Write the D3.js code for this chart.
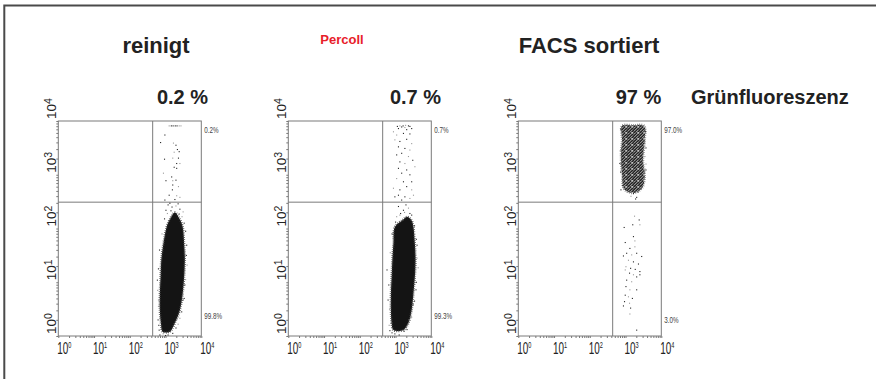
<!DOCTYPE html>
<html>
<head>
<meta charset="utf-8">
<script src="https://cdn.jsdelivr.net/npm/d3@7"></script>
<style>
  body { margin: 0; background: #fff; }
  text { font-family: Arial, "Liberation Sans", sans-serif; }
</style>
</head>
<body>
<div id="chart"></div>
<script>
// panel texts
const panelTitles = ["reinigt", "Percoll", "FACS sortiert"];
const upperPercents = ["0.2 %", "0.7 %", "97 %"];
const quadUpper = ["0.2%", "0.7%", "97.0%"];
const quadLower = ["99.8%", "99.3%", "3.0%"];
const channelLabel = "Grünfluoreszenz";

// axes run over 4 decades, values below are log10 of the fluorescence
const decades = [0, 1, 2, 3, 4];
const gateX = 2.64;
const gateY = 2.49;

// outline of the dense (solid) part of each population, [log x, log y]
const core1 = [[2.92, 0.08], [2.87, 0.24], [2.84, 0.48], [2.84, 0.79], [2.86, 1.10], [2.88, 1.41], [2.94, 1.72],
  [3.03, 2.03], [3.12, 2.17], [3.26, 2.30], [3.40, 2.17], [3.48, 2.03], [3.52, 1.72], [3.54, 1.41],
  [3.52, 1.10], [3.48, 0.79], [3.40, 0.48], [3.26, 0.24], [3.12, 0.08]];
const core2 = [[2.94, 0.11], [2.89, 0.24], [2.87, 0.48], [2.87, 0.79], [2.89, 1.10], [2.91, 1.41], [2.94, 1.72],
  [2.98, 2.03], [3.20, 2.16], [3.33, 2.22], [3.45, 2.15], [3.50, 2.03], [3.54, 1.72], [3.56, 1.41],
  [3.54, 1.10], [3.50, 0.79], [3.45, 0.48], [3.36, 0.24], [3.22, 0.11]];
const core3 = [[2.90, 3.91], [3.21, 3.92], [3.52, 3.91], [3.54, 3.65], [3.49, 3.27], [3.54, 3.00], [3.46, 2.75],
  [3.21, 2.66], [2.96, 2.73], [2.90, 3.00], [2.87, 3.37], [2.90, 3.65]];

// single events outside the dense part, [log x, log y]
const events1 = [
  [3.10, 3.91], [3.21, 3.91], [3.32, 3.91], [3.43, 3.91], [3.16, 3.91], [3.27, 3.91], [3.38, 3.91],
  [2.98, 3.74], [2.86, 3.60], [3.22, 3.59], [3.29, 3.55], [3.33, 3.47], [3.24, 3.42], [3.38, 3.43],
  [2.97, 3.29], [3.20, 3.31], [3.36, 3.31], [3.31, 3.21], [3.40, 3.21], [3.24, 3.14], [3.31, 3.12],
  [2.94, 3.03], [3.17, 2.96], [3.01, 2.89], [3.20, 2.89], [3.29, 2.90], [3.20, 2.81], [3.36, 2.78],
  [3.19, 2.72], [3.10, 2.62], [3.31, 2.61], [2.98, 2.53], [3.26, 2.54], [3.40, 2.58],
  [3.07, 2.44], [3.18, 2.40], [3.29, 2.42], [3.40, 2.36], [3.01, 2.34], [3.49, 2.31], [3.12, 2.47], [3.35, 2.46],
  [3.05, 2.28], [3.15, 2.33], [3.38, 2.27], [3.46, 2.22], [2.97, 2.18], [3.52, 2.10],
  [2.80, 0.67], [2.79, 0.30], [2.82, 0.11], [2.93, 0.04], [2.77, 1.04], [3.59, 1.69], [3.60, 1.32],
  [3.54, 0.95], [3.49, 0.67], [3.40, 0.33], [3.29, 0.15], [3.07, 0.02],
  [2.80, 0.55], [2.81, 0.20], [2.84, 0.02], [2.78, 0.85], [2.80, 1.25], [2.83, 1.60], [2.90, 1.90],
  [3.56, 1.95], [3.58, 1.50], [3.56, 1.05], [3.52, 0.70], [3.45, 0.45], [3.35, 0.22], [3.20, 0.05], [3.00, 0.01]
];
const events2 = [
  [2.94, 3.80], [3.08, 3.86], [3.17, 3.89], [3.26, 3.88], [3.36, 3.91], [3.45, 3.86], [3.12, 3.91], [3.31, 3.84],
  [3.21, 3.91], [3.28, 3.92], [3.40, 3.90], [3.05, 3.90],
  [3.03, 3.74], [3.22, 3.77], [3.40, 3.76], [2.98, 3.65], [3.12, 3.62], [3.31, 3.66], [3.45, 3.58],
  [3.08, 3.52], [3.26, 3.49], [3.40, 3.46], [3.17, 3.40], [3.03, 3.37], [3.36, 3.34], [3.48, 3.27],
  [3.12, 3.24], [3.26, 3.21], [3.08, 3.12], [3.31, 3.09], [3.54, 3.15], [3.17, 3.03], [3.40, 3.00],
  [3.03, 2.93], [3.22, 2.87], [3.45, 2.87], [2.94, 2.75], [3.12, 2.72], [3.31, 2.78], [3.45, 2.72],
  [3.08, 2.62], [3.26, 2.59], [3.40, 2.56], [3.17, 2.53], [2.98, 2.59], [3.50, 2.62],
  [3.08, 2.41], [3.22, 2.34], [3.36, 2.38], [3.14, 2.28], [3.45, 2.25], [3.03, 2.22], [3.29, 2.44],
  [3.00, 2.12], [3.12, 2.25], [3.40, 2.28], [3.53, 2.05], [3.25, 2.30],
  [2.79, 0.67], [2.76, 1.23], [2.82, 0.20], [2.98, 0.04], [3.60, 1.69], [3.63, 1.27], [3.57, 0.86],
  [3.49, 0.58], [3.38, 0.30], [3.24, 0.09], [2.90, 0.06],
  [2.83, 0.50], [2.84, 0.10], [2.81, 0.95], [2.85, 1.55], [2.90, 1.90], [3.58, 1.80], [3.60, 1.45],
  [3.58, 1.00], [3.53, 0.65], [3.45, 0.35], [3.32, 0.12], [3.10, 0.02]
];
const events3 = [
  [3.25, 2.23], [3.38, 2.16], [3.20, 2.07], [3.40, 2.07], [2.96, 2.02], [3.22, 1.85], [3.26, 1.77],
  [2.99, 1.74], [3.12, 1.63], [3.26, 1.66], [3.03, 1.54], [2.94, 1.49], [3.17, 1.51], [3.31, 1.54],
  [3.45, 1.48], [3.08, 1.41], [3.22, 1.38], [3.36, 1.34], [3.01, 1.29], [3.14, 1.26], [3.27, 1.24],
  [2.99, 1.23], [3.40, 1.20], [3.11, 1.17], [3.22, 1.14], [3.31, 1.10], [3.03, 1.04], [3.17, 1.01],
  [3.40, 1.14], [3.01, 0.92], [3.12, 0.86], [3.31, 0.86], [2.99, 0.76], [3.08, 0.73], [3.19, 0.70],
  [2.97, 0.64], [3.11, 0.61], [2.94, 0.56], [3.14, 0.52], [3.12, 0.41], [3.31, 0.11],
  [2.87, 2.72], [2.94, 2.78], [3.31, 2.58], [3.22, 2.65], [3.54, 3.34], [3.57, 3.09], [3.50, 3.58],
  [2.88, 3.58], [2.84, 3.21],
  [2.86, 3.85], [2.85, 3.45], [2.86, 3.05], [2.92, 2.80], [3.05, 2.68], [3.35, 2.68], [3.50, 2.85],
  [3.57, 3.20], [3.57, 3.50], [3.56, 3.80], [3.15, 2.60], [3.28, 2.55]
];
const cores = [core1, core2, core3];
const events = [events1, events2, events3];

const width = 876, height = 379;
const plotW = 143, plotH = 215, plotTop = 121;
const panelLeft = i => 58.3 + i * 230;
const minorTicks = d3.range(0, 4).flatMap(k => d3.range(1, 10).map(m => m * Math.pow(10, k))).concat([1e4]);
const pow = e => Math.pow(10, e);

const svg = d3.select('#chart').append('svg')
  .attr('width', width)
  .attr('height', height);

// speckled fill for the less dense sorted population
const pat = svg.append('defs').append('pattern')
  .attr('id', 'speck').attr('width', 6).attr('height', 6)
  .attr('patternUnits', 'userSpaceOnUse');
pat.append('rect').attr('width', 6).attr('height', 6).attr('fill', '#222');
[[0, 0], [2, 0], [5, 0], [1, 1], [4, 1], [3, 2], [0, 2], [5, 3], [2, 3], [1, 4], [4, 4],
  [0, 5], [3, 5], [5, 5]]
  .forEach((p, k) => pat.append('rect')
    .attr('x', p[0]).attr('y', p[1]).attr('width', 1).attr('height', 1)
    .attr('fill', k % 3 ? '#c4c4c4' : '#8a8a8a'));

// outer frame (top and left only)
svg.append('path')
  .attr('d', `M4.3,${height} V5.5 H${width}`)
  .attr('fill', 'none')
  .attr('stroke', '#4a4a4a')
  .attr('stroke-width', 2);

const x = d3.scaleLog().domain([1, 1e4]).range([0, plotW]);
const y = d3.scaleLog().domain([1, 1e4]).range([plotH, 0]);

panelTitles.forEach((title, i) => {
  const g = svg.append('g').attr('transform', `translate(${panelLeft(i)},${plotTop})`);

  // minor / major ticks
  const xAxis = d3.axisBottom(x).tickValues(minorTicks).tickFormat('').tickSizeOuter(0)
    .tickSizeInner(2);
  const yAxis = d3.axisLeft(y).tickValues(minorTicks).tickFormat('').tickSizeOuter(0)
    .tickSizeInner(2);
  g.append('g').attr('transform', `translate(0,${plotH})`).call(xAxis)
    .call(a => a.select('.domain').remove());
  g.append('g').call(yAxis).call(a => a.select('.domain').remove());
  g.selectAll('.tick line').attr('stroke', '#777');

  // plot box
  g.append('rect')
    .attr('width', plotW).attr('height', plotH)
    .attr('fill', 'none').attr('stroke', '#7a7a7a').attr('stroke-width', 1);

  // quadrant gates
  g.append('line')
    .attr('x1', x(pow(gateX))).attr('x2', x(pow(gateX)))
    .attr('y1', 0).attr('y2', plotH)
    .attr('stroke', '#7a7a7a');
  g.append('line')
    .attr('x1', 0).attr('x2', plotW)
    .attr('y1', y(pow(gateY))).attr('y2', y(pow(gateY)))
    .attr('stroke', '#7a7a7a');

  // dense population
  const line = d3.line()
    .x(d => x(pow(d[0])))
    .y(d => y(pow(d[1])))
    .curve(d3.curveCatmullRomClosed);
  const sorted = i === 2;
  g.append('path')
    .attr('d', line(cores[i]))
    .attr('fill', sorted ? 'url(#speck)' : '#141414')
    .attr('stroke', sorted ? '#777' : '#444')
    .attr('stroke-width', 2.4)
    .attr('stroke-dasharray', '0.7 1.4');

  // single events
  g.selectAll('rect.ev')
    .data(events[i])
    .join('rect')
    .attr('class', 'ev')
    .attr('x', d => x(pow(d[0])) - 0.5)
    .attr('y', d => y(pow(d[1])) - 0.5)
    .attr('width', 1.1).attr('height', 1.1)
    .attr('fill', (d, j) => j % 3 === 0 ? '#999' : '#222');

  // x labels 10^n
  g.selectAll('text.xl')
    .data(decades)
    .join('text')
    .attr('class', 'xl')
    .attr('transform', d => `translate(${x(pow(d)) - 1},${plotH + 18}) scale(0.62,1)`)
    .style('font-size', '16px')
    .attr('fill', '#222')
    .each(function (d) {
      const t = d3.select(this);
      t.append('tspan').text('10');
      t.append('tspan').attr('dy', -6.5).style('font-size', '9px').text(d);
    });

  // y labels, rotated
  g.selectAll('text.yl')
    .data(decades)
    .join('text')
    .attr('class', 'yl')
    .attr('transform', d => `translate(-2.5,${y(pow(d)) - 2}) rotate(-90)`)
    .style('font-size', '13.5px')
    .attr('fill', '#222')
    .each(function (d) {
      const t = d3.select(this);
      t.append('tspan').text('10');
      t.append('tspan').attr('dy', -3.5).style('font-size', '10.5px').text(d);
    });

  // quadrant percentages
  g.append('text')
    .attr('transform', `translate(${plotW + 3},${12}) scale(0.7,1)`)
    .style('font-size', '9px').attr('fill', '#444')
    .text(quadUpper[i]);
  g.append('text')
    .attr('transform', `translate(${plotW + 3},${sorted ? 202 : 197.5}) scale(0.7,1)`)
    .style('font-size', '9px').attr('fill', '#444')
    .text(quadLower[i]);

  // upper percentage above panel
  g.append('text')
    .attr('x', [124.2, 127.2, 120.2][i]).attr('y', -17)
    .attr('text-anchor', 'middle')
    .style('font-size', '20px').style('font-weight', 'bold')
    .attr('fill', '#222')
    .text(upperPercents[i]);

  // panel title
  if (i === 1) {
    g.append('text')
      .attr('x', 53.7).attr('y', -77)
      .attr('text-anchor', 'middle')
      .style('font-size', '13px').style('font-weight', 'bold')
      .attr('fill', '#e8202a')
      .text(title);
  } else {
    g.append('text')
      .attr('x', i === 0 ? 97.7 : 70.7).attr('y', -68)
      .attr('text-anchor', 'middle')
      .style('font-size', '22px').style('font-weight', 'bold')
      .attr('fill', '#222')
      .text(title);
  }
});

svg.append('text')
  .attr('x', 691).attr('y', 104)
  .style('font-size', '20px').style('font-weight', 'bold')
  .attr('fill', '#222')
  .text(channelLabel);
</script>
</body>
</html>
